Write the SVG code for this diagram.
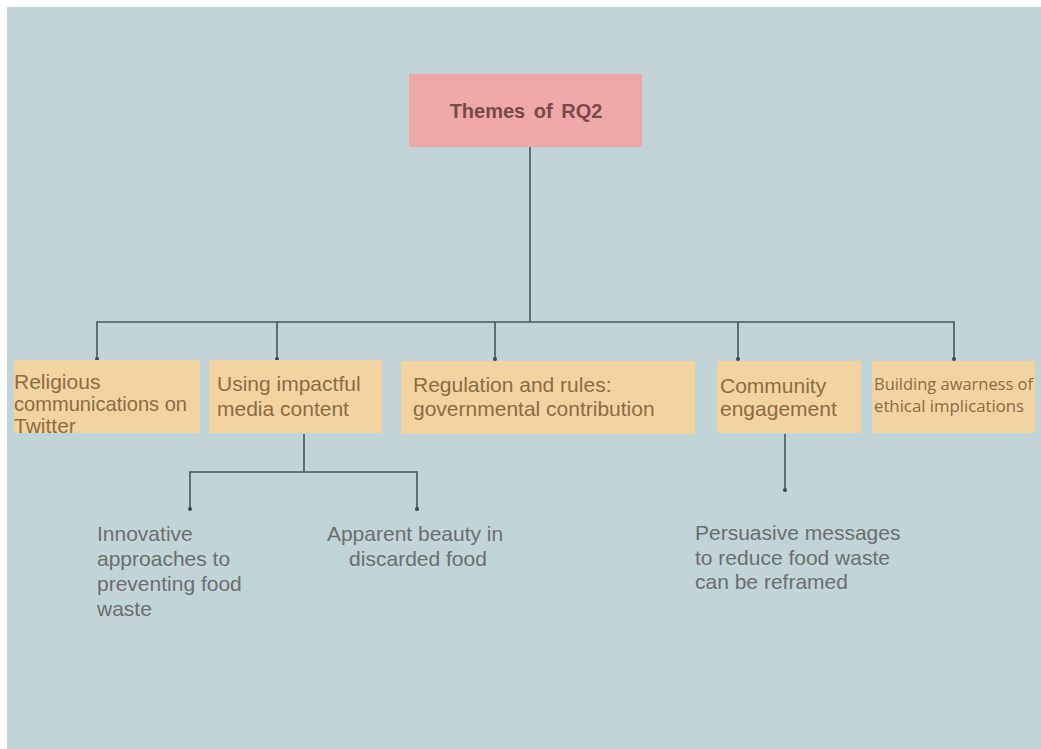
<svg xmlns="http://www.w3.org/2000/svg" width="1041" height="749" viewBox="0 0 1041 749">
  <style>
    .theme { fill: #f3d39f; }
    .theme-text { font-family: "Liberation Sans", Arial, sans-serif; font-size: 21px; fill: #8c6c45; }
    .leaf-text { font-family: "Liberation Sans", Arial, sans-serif; font-size: 21px; fill: #6e6e6e; }
    .wire { fill: none; stroke: #4b5459; stroke-width: 1.6; }
    .tip { fill: #3f474c; }
  </style>

  <!-- page -->
  <rect x="0" y="0" width="1041" height="749" fill="#ffffff"/>
  <rect x="7" y="7" width="1034" height="742" fill="#c1d4d8"/>

  <!-- connectors -->
  <g id="connectors">
    <path class="wire" d="M530 147 V322 M97 359 V322 H954 V359 M277 322 V359 M495 322 V359 M738 322 V359"/>
    <path class="wire" d="M304 434 V472 M190 509 V472 H417 V509"/>
    <path class="wire" d="M785 434 V490"/>
    <circle class="tip" cx="97" cy="359" r="2"/>
    <circle class="tip" cx="277" cy="359" r="2"/>
    <circle class="tip" cx="495" cy="359" r="2"/>
    <circle class="tip" cx="738" cy="359" r="2"/>
    <circle class="tip" cx="954" cy="359" r="2"/>
    <circle class="tip" cx="190" cy="509" r="2"/>
    <circle class="tip" cx="417" cy="509" r="2"/>
    <circle class="tip" cx="785" cy="490" r="2"/>
  </g>

  <!-- root -->
  <g id="root">
    <rect x="409" y="74" width="233" height="73" fill="#eea8a9"/>
    <text x="526" y="118" text-anchor="middle" font-family="'Liberation Sans', Arial, sans-serif" font-size="20" font-weight="bold" word-spacing="3" fill="#7a4a4a">Themes of RQ2</text>
  </g>

  <!-- themes -->
  <g id="theme-religious">
    <rect class="theme" x="14" y="360" width="186" height="73"/>
    <text class="theme-text" font-size="19.5">
      <tspan x="14" y="389">Religious</tspan>
      <tspan x="14" y="411" textLength="173" lengthAdjust="spacingAndGlyphs">communications on</tspan>
      <tspan x="14" y="433">Twitter</tspan>
    </text>
  </g>

  <g id="theme-media">
    <rect class="theme" x="209" y="360" width="173" height="73"/>
    <text class="theme-text">
      <tspan x="217" y="391">Using impactful</tspan>
      <tspan x="217" y="416">media content</tspan>
    </text>
  </g>

  <g id="theme-regulation">
    <rect class="theme" x="401" y="361" width="294" height="73"/>
    <text class="theme-text" font-size="22">
      <tspan x="413" y="392">Regulation and rules:</tspan>
      <tspan x="413" y="416">governmental contribution</tspan>
    </text>
  </g>

  <g id="theme-community">
    <rect class="theme" x="717" y="361" width="144" height="72"/>
    <text class="theme-text">
      <tspan x="720" y="393">Community</tspan>
      <tspan x="720" y="416">engagement</tspan>
    </text>
  </g>

  <g id="theme-ethics">
    <rect class="theme" x="872" y="361" width="163" height="72"/>
    <text font-family="'Open Sans', 'Noto Sans', sans-serif" font-size="16" fill="#8c6c45">
      <tspan x="874" y="390" textLength="159" lengthAdjust="spacingAndGlyphs">Building awarness of</tspan>
      <tspan x="874" y="412" textLength="150" lengthAdjust="spacingAndGlyphs">ethical implications</tspan>
    </text>
  </g>

  <!-- sub-themes -->
  <g id="leaf-innovative">
    <text class="leaf-text" font-size="21.5">
      <tspan x="97" y="541">Innovative</tspan>
      <tspan x="97" y="566">approaches to</tspan>
      <tspan x="97" y="591">preventing food</tspan>
      <tspan x="97" y="616">waste</tspan>
    </text>
  </g>

  <g id="leaf-beauty">
    <text class="leaf-text" text-anchor="middle" font-size="22">
      <tspan x="418" y="541">Apparent beauty in</tspan>
      <tspan x="418" y="566">discarded food</tspan>
    </text>
  </g>

  <g id="leaf-persuasive">
    <text class="leaf-text" font-size="20">
      <tspan x="695" y="540">Persuasive messages</tspan>
      <tspan x="695" y="565">to reduce food waste</tspan>
      <tspan x="695" y="589">can be reframed</tspan>
    </text>
  </g>
</svg>
